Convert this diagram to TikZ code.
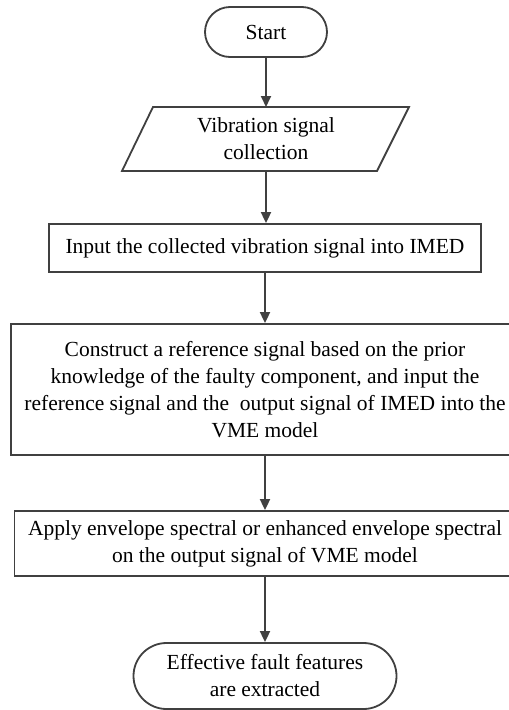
\documentclass[tikz,border=0pt]{standalone}
\usepackage{fontspec}
\setmainfont{Liberation Serif}
\usetikzlibrary{shapes.misc,arrows.meta}
\definecolor{edgegray}{HTML}{404040}
\begin{document}
\begin{tikzpicture}[x=1pt,y=-1pt,
  every node/.style={font=\fontsize{21.5}{27}\selectfont, align=center, inner sep=0pt},
  terminal/.style={draw=edgegray, line width=1.8pt, rounded rectangle},
  procbox/.style={draw=edgegray, line width=1.8pt, rectangle},
  flow/.style={draw=edgegray, line width=1.8pt, -{Triangle[length=11pt,width=10pt]}}]
  \clip (0,0) rectangle (509,710);
  \fill[white] (0,0) rectangle (509,710);

  % start / end terminals
  \node[terminal, minimum width=122pt, minimum height=50pt] (start) at (266,32) {Start};
  \node[terminal, minimum width=263pt, minimum height=66pt] (finish) at (265,676)
    {Effective fault features\\are extracted};

  % data input (parallelogram drawn around a plain node)
  \node[minimum width=250pt, minimum height=64pt] (collect) at (266,139)
    {Vibration signal\\collection};
  \draw[edgegray, line width=1.8pt, line join=miter]
    (153,107) -- (409,107) -- (377,171) -- (122,171) -- cycle;

  % process steps
  \node[procbox, minimum width=432pt, minimum height=48pt] (imed) at (265,248)
    {Input the collected vibration signal into IMED};
  \node[procbox, minimum width=508pt, minimum height=131pt] (vme) at (265,389.5)
    {Construct a reference signal based on the prior\\
     knowledge of the faulty component, and input the\\
     reference signal and the \ output signal of IMED into the\\
     VME model};
  \node[procbox, minimum width=501pt, minimum height=65pt] (env) at (265,543.5)
    {Apply envelope spectral or enhanced envelope spectral\\
     on the output signal of VME model};

  % connectors
  \draw[flow] (start.south) -- (start.south |- 0,107);
  \draw[flow] (collect.south) -- (collect.south |- imed.north);
  \draw[flow] (imed.south) -- (vme.north -| imed.south);
  \draw[flow] (vme.south) -- (env.north -| vme.south);
  \draw[flow] (env.south -| finish.north) -- (finish.north);
\end{tikzpicture}
\end{document}
